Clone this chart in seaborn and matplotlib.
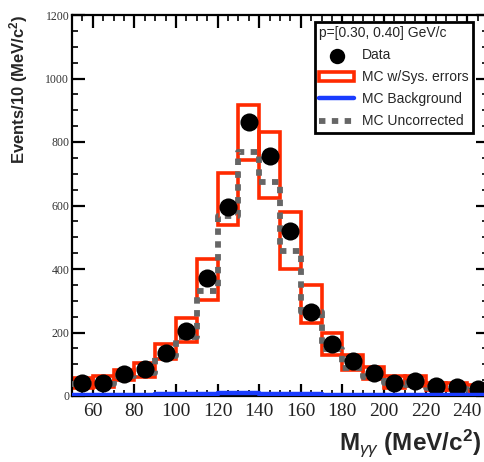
import matplotlib
matplotlib.use("Agg")
import matplotlib.pyplot as plt
import seaborn as sns
from matplotlib.ticker import MultipleLocator

# Diphoton invariant mass bins (MeV/c^2), 10 MeV wide
mass = [55, 65, 75, 85, 95, 105, 115, 125, 135, 145,
        155, 165, 175, 185, 195, 205, 215, 225, 235, 245]
bin_edges = [50, 60, 70, 80, 90, 100, 110, 120, 130, 140, 150,
             160, 170, 180, 190, 200, 210, 220, 230, 240, 250]

# Measured yields
data_counts = [40, 42, 68, 86, 135, 206, 371, 596, 864, 755,
               520, 266, 163, 110, 73, 41, 46, 31, 28, 22]

# MC with systematic error band (upper / lower edge)
mc_sys_high = [57, 63, 82, 104, 163, 245, 430, 701, 917, 833,
               581, 349, 198, 129, 91, 64, 63, 41, 41, 35]
mc_sys_low = [25, 28, 50, 60, 116, 170, 302, 540, 744, 625,
              399, 229, 129, 82, 55, 25, 32, 18, 18, 12]

# MC background and uncorrected MC
mc_background = [3, 3, 4, 4, 5, 6, 7, 8, 8, 7,
                 6, 5, 4, 4, 3, 3, 3, 2, 2, 2]
mc_uncorrected = [38, 38, 63, 72, 126, 185, 330, 566, 767, 675,
                  456, 264, 148, 88, 60, 41, 35, 26, 22, 18]

sns.set_theme(style="ticks")
plt.rcParams.update({
    "font.family": ["Liberation Sans", "DejaVu Sans"],
    "mathtext.fontset": "custom",
    "mathtext.rm": "Liberation Sans",
    "mathtext.it": "Liberation Sans:italic",
    "mathtext.bf": "Liberation Sans:bold",
    "axes.linewidth": 1.6,
    "axes.edgecolor": "black",
})

fig = plt.figure(figsize=(4.84, 4.62), dpi=100)
ax = fig.add_axes([72 / 484, 1 - 396 / 462, 416 / 484, 381 / 462])

red = "#ff2a00"
ax.bar(mass, [h - l for h, l in zip(mc_sys_high, mc_sys_low)], bottom=mc_sys_low,
       width=10, fill=False, edgecolor=red, linewidth=2.6,
       label="MC w/Sys. errors", zorder=2)

sns.histplot(x=mass, weights=mc_uncorrected, bins=bin_edges, element="step",
             fill=False, color="#666666", linewidth=4.2,
             linestyle=(0, (1.1, 1.1)), label="MC Uncorrected", ax=ax, zorder=3)

sns.histplot(x=mass, weights=mc_background, bins=bin_edges, element="step",
             fill=False, color="#1a3cff", linewidth=3.2,
             label="MC Background", ax=ax, zorder=5)

sns.scatterplot(x=mass, y=data_counts, s=170, color="black", edgecolor="black",
                linewidth=0, label="Data", ax=ax, zorder=4, legend=False)

ax.set_xlim(50, 250)
ax.set_ylim(0, 1200)
ax.xaxis.set_major_locator(MultipleLocator(20))
ax.xaxis.set_minor_locator(MultipleLocator(5))
ax.yaxis.set_major_locator(MultipleLocator(200))
ax.yaxis.set_minor_locator(MultipleLocator(50))

ax.tick_params(which="both", direction="in", top=True, right=True, colors="black")
ax.tick_params(which="major", length=9, width=1.6)
ax.tick_params(which="minor", length=4.5, width=1.2)
ax.tick_params(axis="x", labelsize=14, pad=5, labelcolor="#222222",
               labelfontfamily="Liberation Serif")
ax.tick_params(axis="y", labelsize=8.5, pad=2, labelcolor="#333333",
               labelfontfamily="Liberation Serif")

ax.set_xlabel(r"M$_{\gamma\gamma}$ (MeV/c$^{\mathbf{2}}$)", fontsize=17.5,
              fontweight="bold", ha="right")
ax.xaxis.set_label_coords((481 - 72) / 416, -0.083)
ax.set_ylabel(r"Events/10 (MeV/c$^{\mathbf{2}}$)", fontsize=12, fontweight="bold")
ax.yaxis.set_label_coords(-0.10, 0.805)

handles, labels = ax.get_legend_handles_labels()
order = ["Data", "MC w/Sys. errors", "MC Background", "MC Uncorrected"]
lookup = dict(zip(labels, handles))
leg = ax.legend([lookup[k] for k in order], order,
                title="p=[0.30, 0.40] GeV/c", alignment="left",
                loc="upper right", bbox_to_anchor=(473 / 484, 1 - 22 / 462),
                bbox_transform=fig.transFigure, borderaxespad=0,
                frameon=True, fancybox=False, framealpha=1, edgecolor="black",
                fontsize=10, title_fontsize=10, handlelength=2.5,
                labelspacing=0.58, borderpad=0.3, handletextpad=0.6,
                markerscale=0.85)
leg.get_frame().set_linewidth(2)
leg.set_zorder(10)

fig.savefig("out.png", dpi=100)
